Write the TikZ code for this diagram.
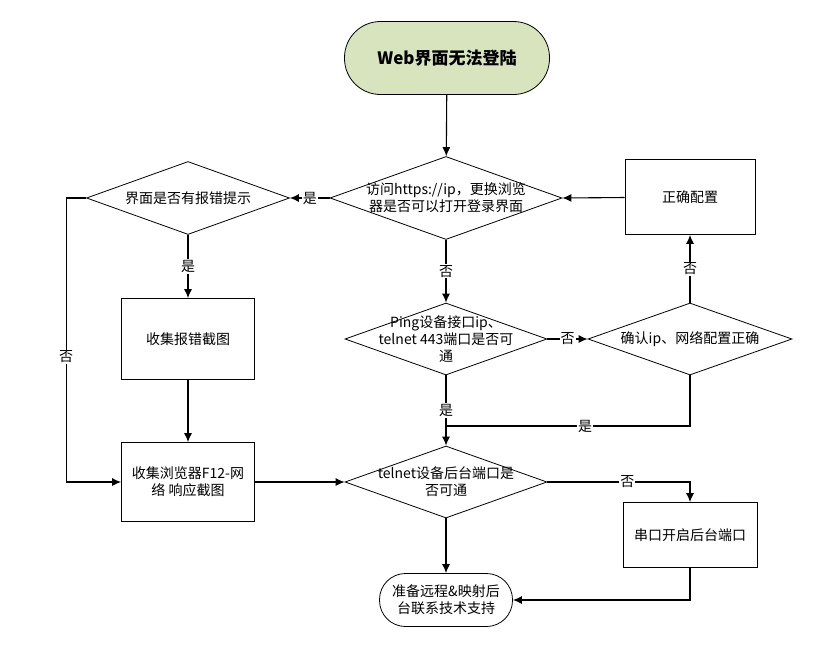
\documentclass[tikz,border=0pt]{standalone}
\usepackage{fontspec}
\setmainfont{Noto Sans CJK SC}
\usetikzlibrary{shapes.geometric,arrows.meta}
\definecolor{startgreen}{HTML}{D7E4BD}

\begin{document}
\begin{tikzpicture}[
    x=1pt, y=-1pt,
    >={Latex[length=9pt,width=8pt]},
    txt/.style={font=\fontsize{14}{17}\selectfont},
    flow/.style={->,line width=1.1pt},
    decision/.style={diamond,draw,line width=0.8pt,inner sep=0pt},
    dtext/.style={txt,align=center,inner sep=0pt},
    proc/.style={rectangle,draw,line width=0.8pt,minimum width=133pt,minimum height=80pt,align=center,txt},
    term/.style={rectangle,draw,line width=0.8pt,rounded corners=26pt,align=center,txt},
    yes/.style={txt,fill=white,inner sep=1pt},
]
\useasboundingbox (0,0) rectangle (813,653);

%%%
% Nodes
\node[term,fill=startgreen,minimum width=205pt,minimum height=73pt,rounded corners=36pt,
      font=\bfseries\fontsize{17}{20}\selectfont] (start) at (447,58) {Web界面无法登陆};

\node[decision,minimum width=232pt,minimum height=83pt] (d1) at (446,198) {};
\node[dtext] (d1t) at (d1) {访问https://ip，更换浏览\\器是否可以打开登录界面};

\node[decision,minimum width=203pt,minimum height=73pt] (d2) at (188,198) {};
\node[dtext] (d2t) at (d2) {界面是否有报错提示};

\node[proc,minimum width=130pt,minimum height=75pt] (fix) at (690,197) {正确配置};
\node[proc,minimum height=81pt] (shot) at (188,339) {收集报错截图};

\node[decision,minimum width=202pt,minimum height=72pt] (d3) at (446,339) {};
\node[dtext] (d3t) at (d3) {Ping设备接口ip、\\telnet 443端口是否可\\通};

\node[decision,minimum width=204pt,minimum height=72pt] (d4) at (690,339) {};
\node[dtext] (d4t) at (d4) {确认ip、网络配置正确};

\node[proc,minimum height=79pt] (f12) at (188,482) {收集浏览器F12-网\\络 响应截图};

\node[decision,minimum width=202pt,minimum height=72pt] (d5) at (446,482) {};
\node[dtext] (d5t) at (d5) {telnet设备后台端口是\\否可通};

\node[proc,minimum width=134pt,minimum height=65pt] (serial) at (690,535) {串口开启后台端口};
\node[term,minimum width=133pt,minimum height=53pt] (end) at (446,600) {准备远程\&映射后\\台联系技术支持};

\coordinate (join) at (446,426);

%%%
% Connectors
\draw[flow] (start) -- (d1);
\draw[flow] (fix) -- (d1.east);
\draw[flow] (d1.west) -- node[yes]{是} (d2.east);
\draw[flow] (d1.south) -- node[yes]{否} (d3.north);
\draw[flow] (d2.south) -- node[yes]{是} (shot.north);
\draw[flow] (d2.west) -- ++(-20,0) |- node[yes,pos=0.28]{否} (f12.west);
\draw[flow] (shot) -- (f12);
\draw[flow] (f12) -- (d5.west);
\draw[flow] (d3.east) -- node[yes]{否} (d4.west);
\draw[flow] (d4.north) -- node[yes]{否} (fix.south);
\draw[flow] (d3.south) -- node[yes]{是} (d5.north);
\draw[line width=1.1pt] (d4.south) |- node[yes,pos=0.715]{是} (join);
\draw[flow] (d5.east) -| node[yes,pos=0.28]{否} (serial.north);
\draw[flow] (d5.south) -- (end.north);
\draw[flow] (serial.south) |- (end.east);
\end{tikzpicture}
\end{document}
